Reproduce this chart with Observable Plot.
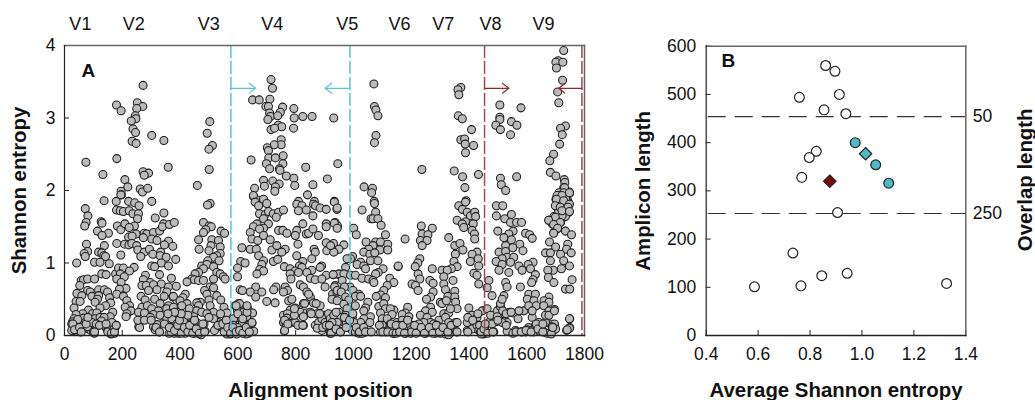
<!DOCTYPE html>
<html><head><meta charset="utf-8">
<script src="https://cdn.jsdelivr.net/npm/d3@7"></script>
<script src="https://cdn.jsdelivr.net/npm/@observablehq/plot@0.6"></script>
<style>
html,body{margin:0;padding:0;background:#fff}
#wrap{display:flex;width:1035px;height:400px}
svg{display:block;flex:none}
</style></head><body><div id="wrap"></div>
<script>
const highV1V3=[[74,2.39],[133,2.22],[181,2.44],[180,3.18],[196,3.10],[272,3.45],[252,3.21],[271,3.16],[250,3.13],[245,3.03],[247,2.99],[231,2.96],[237,2.85],[246,2.80],[234,2.68],[248,2.65],[302,2.76],[344,2.69],[359,2.32],[272,2.26],[291,2.24],[276,2.21],[209,2.15],[219,2.05],[196,1.99],[197,1.94],[262,2.02],[270,1.98],[288,2.03],[503,2.95],[494,2.79],[512,2.62],[500,2.57],[501,2.29],[460,2.07]];
const highV4=[[715,3.53],[720,3.41],[651,3.25],[674,3.25],[711,3.26],[697,3.16],[706,3.16],[755,3.15],[794,3.13],[710,3.07],[747,3.08],[713,3.02],[738,3.03],[704,2.98],[795,3.0],[825,3.02],[857,3.02],[932,3.0],[740,2.9],[752,2.88],[715,2.84],[727,2.86],[793,2.86],[750,2.7],[750,2.63],[726,2.63],[702,2.59],[706,2.55],[757,2.48],[707,2.45],[730,2.45],[646,2.42],[699,2.37],[756,2.37],[835,2.32],[946,2.37],[710,2.3],[744,2.3],[746,2.28],[768,2.2],[794,2.17],[910,2.16],[689,2.14],[721,2.13],[658,2.03],[692,2.06],[743,2.09],[730,2.05],[728,1.99],[797,2.07],[860,2.08],[841,1.94],[654,1.92],[668,1.87],[690,1.87],[810,1.85],[865,1.85]];
const highV5V9=[[1071,3.47],[1073,3.16],[1078,3.11],[1085,3.03],[1078,2.76],[1073,2.66],[1037,2.05],[1066,2.03],[1063,1.97],[1072,1.85],[1237,2.29],[1372,3.42],[1362,3.39],[1365,3.32],[1363,3.03],[1377,2.99],[1409,2.84],[1372,2.70],[1385,2.71],[1387,2.64],[1416,2.62],[1388,2.52],[1349,2.27],[1378,2.19],[1433,2.22],[1386,2.04],[1390,1.86],[1507,3.18],[1580,3.14],[1507,3.01],[1507,2.98],[1493,2.9],[1509,2.84],[1547,2.95],[1566,2.9],[1544,2.77],[1509,2.17],[1565,2.19],[1512,2.08],[1527,2.0],[1728,3.93],[1709,3.79],[1701,3.77],[1725,3.77],[1703,3.69],[1724,3.52],[1707,3.36],[1711,3.21],[1734,2.89],[1717,2.86],[1723,2.77],[1714,2.64],[1693,2.5],[1680,2.41],[1682,2.25],[1701,2.2],[1730,2.15],[1732,2.11],[1728,2.04],[1747,1.98],[1712,1.97],[1725,1.94],[1709,1.93],[1726,1.91],[1701,1.88],[1742,1.86]];
const lowV1=[[72,1.75],[81,1.65],[75,1.56],[70,1.51],[137,1.86],[127,1.57],[130,1.55],[114,1.44],[152,1.41],[130,1.38],[138,1.24],[76,1.26],[80,1.16],[68,1.13],[72,1.09],[118,1.15],[129,1.14],[136,1.10],[142,1.09],[104,1.01],[123,1.01],[155,.99],[42,1.0],[129,.85],[144,.84],[177,.85],[58,.76],[66,.77],[80,.78],[104,.78],[53,.69],[80,.62],[89,.6],[118,.63],[138,.63],[43,.58],[60,.55],[95,.54],[118,.55],[149,.6],[156,.52],[114,.5],[40,.47],[54,.47],[106,.46],[160,.45],[142,.41],[83,.35],[33,.38],[123,.38],[97,.3],[112,.31],[167,.32],[63,.3],[40,.29],[33,.23],[28,.19],[25,.16],[31,.11],[29,.08],[54,.21],[87,.23],[106,.23],[123,.25],[158,.26],[66,.24],[72,.18],[48,.14],[33,.07],[54,.05],[83,.09],[91,.07],[103,.03],[123,.15],[135,.16],[144,.11],[149,.07],[158,.05],[161,.02],[173,.03],[175,.11],[179,.14],[164,.18],[66,.14],[114,.16],[25,.07],[40,.09],[80,.12],[95,.18],[137,.25],[152,.08],[170,.08],[100,.05],[128,.2],[46,.22]];
const lowV2=[[179,1.85],[195,1.94],[180,1.73],[193,1.72],[222,1.85],[243,1.83],[258,1.79],[204,1.71],[224,1.72],[237,1.68],[256,1.68],[253,1.61],[183,1.51],[195,1.46],[209,1.54],[242,1.51],[224,1.49],[314,1.62],[344,1.69],[302,1.85],[248,1.40],[276,1.41],[285,1.40],[222,1.36],[234,1.37],[308,1.42],[329,1.44],[181,1.27],[208,1.26],[223,1.25],[233,1.27],[250,1.24],[273,1.35],[302,1.33],[320,1.31],[254,1.18],[276,1.15],[294,1.19],[264,1.09],[306,1.12],[195,1.11],[333,1.15],[343,1.54],[339,1.5],[363,1.53],[380,1.56],[360,1.3],[346,1.25],[375,1.23],[331,1.1],[385,1.05],[352,1.08],[335,1.0],[360,.96],[302,.96],[312,.95],[187,.93],[204,.93],[241,.94],[225,.89],[193,.85],[207,.81],[280,.83],[329,.84],[370,.79],[181,.78],[196,.73],[273,.77],[297,.73],[268,.69],[283,.69],[213,.65],[190,.64],[308,.7],[335,.71],[387,.68],[360,.67],[181,.57],[204,.54],[216,.48],[265,.54],[354,.6],[320,.63],[291,.62],[345,.54],[312,.5],[279,.49],[225,.41],[210,.39],[230,.34],[216,.3],[213,.26],[268,.39],[287,.41],[331,.44],[360,.41],[375,.53],[389,.48],[256,.32],[277,.31],[302,.37],[325,.34],[354,.37],[260,.2],[257,.12],[308,.29],[297,.25],[331,.28],[343,.18],[308,.12],[320,.15],[314,.08],[329,.05]];
const lowV3=[[504,1.82],[495,1.8],[481,1.56],[501,1.51],[508,1.5],[489,1.46],[481,1.42],[542,1.44],[554,1.41],[464,1.32],[510,1.32],[533,1.31],[507,1.24],[500,1.17],[466,1.19],[539,1.22],[539,1.13],[527,1.1],[516,1.08],[496,1.03],[535,1.03],[475,.96],[493,.98],[516,.95],[481,.92],[464,.87],[452,.85],[527,.87],[539,.85],[550,.81],[441,.78],[424,.74],[450,.77],[464,.76],[481,.76],[556,.78],[516,.78],[504,.67],[516,.66],[485,.62],[493,.57],[527,.55],[541,.49],[500,.49],[504,.41],[552,.39],[470,.46],[458,.45],[464,.41],[418,.57],[410,.52],[400,.48],[377,.54],[424,.44],[406,.41],[377,.39],[432,.37],[458,.34],[475,.32],[516,.32],[562,.31],[493,.3],[447,.26],[418,.28],[389,.32],[366,.3],[354,.23],[372,.23],[400,.26],[429,.21],[458,.18],[483,.16],[533,.18],[545,.16],[562,.18],[516,.23],[389,.16],[406,.14],[424,.12],[447,.14],[470,.11],[366,.11],[380,.03],[395,.03],[406,.07],[418,.03],[435,.05],[449,.03],[464,.03],[473,.01],[487,.06],[362,.03],[444,.09],[527,.11],[550,.12],[560,.09],[568,.07],[562,.02],[553,.05],[574,.02],[571,.11],[578,.16],[392,.1],[412,.2],[437,.16],[455,.08],[500,.25],[540,.3]];
const lowV4=[[654,1.93],[660,1.84],[672,1.79],[689,1.88],[700,1.82],[675,1.68],[695,1.67],[706,1.71],[723,1.68],[741,1.7],[758,1.73],[733,1.63],[666,1.54],[689,1.61],[706,1.54],[654,1.5],[689,1.48],[675,1.47],[643,1.42],[741,1.45],[756,1.45],[770,1.41],[649,1.33],[669,1.31],[689,1.38],[712,1.32],[643,1.19],[614,1.21],[664,1.19],[718,1.18],[735,1.24],[764,1.19],[752,1.15],[672,1.1],[689,1.03],[723,1.02],[738,1.05],[610,1.02],[625,1],[599,.93],[683,.98],[676,.91],[689,.89],[666,.85],[761,.95],[599,.81],[662,.67],[643,.6],[683,.6],[662,.53],[608,.63],[616,.62],[732,.67],[724,.63],[700,.47],[729,.45],[764,.67],[772,.62],[758,.6],[776,.48],[787,.5],[602,.44],[591,.41],[616,.39],[631,.4],[638,.34],[599,.34],[620,.32],[651,.31],[602,.25],[631,.26],[585,.23],[616,.18],[649,.17],[637,.14],[585,.14],[599,.11],[625,.09],[637,.03],[591,.05],[608,.05],[582,.07],[655,.06],[628,.02],[596,.02]];
const lowV4b=[[804,1.81],[822,1.79],[810,1.72],[837,1.73],[862,1.81],[869,1.79],[860,1.65],[885,1.76],[906,1.74],[934,1.85],[943,1.74],[825,1.54],[804,1.45],[799,1.38],[837,1.4],[845,1.41],[860,1.47],[879,1.38],[906,1.54],[937,1.56],[906,1.5],[945,1.51],[808,1.26],[906,1.28],[931,1.27],[908,1.17],[864,1.19],[868,1.15],[804,1.1],[856,1.06],[937,1.17],[825,1.02],[813,.96],[890,.96],[781,.92],[799,.89],[822,.94],[856,.9],[885,.94],[781,.85],[810,.87],[839,.87],[906,.83],[931,.84],[949,.84],[784,.78],[851,.79],[868,.77],[891,.78],[816,.7],[827,.67],[902,.67],[937,.69],[955,.69],[839,.6],[851,.53],[845,.57],[928,.57],[943,.6],[885,.41],[862,.45],[827,.44],[799,.38],[781,.35],[816,.32],[839,.31],[758,.28],[772,.3],[770,.24],[793,.23],[810,.23],[827,.26],[851,.32],[758,.18],[781,.17],[767,.16],[799,.18],[827,.14],[761,.06],[873,.3],[896,.28],[914,.3],[931,.25],[949,.3],[868,.14],[880,.18],[891,.23],[902,.18],[920,.23],[891,.07],[920,.03],[914,.14],[937,.18],[949,.18],[937,.09],[875,.1],[905,.12]];
const lowV5V6=[[934,1.84],[944,1.76],[1030,1.73],[1073,1.82],[1077,1.7],[1061,1.61],[1068,1.61],[1085,1.61],[1096,1.52],[934,1.55],[944,1.48],[1001,1.48],[1010,1.39],[1111,1.39],[967,1.25],[950,1.19],[932,1.15],[921,1.24],[1044,1.29],[1077,1.29],[1094,1.29],[1119,1.26],[1068,1.24],[1053,1.19],[1092,1.18],[1119,1.18],[1036,1.15],[1057,1.12],[1074,1.14],[997,1.09],[990,1.06],[978,1.06],[1059,1.03],[1085,1.03],[1025,1.01],[1013,.98],[1036,.96],[973,.94],[1042,.92],[1103,.92],[1086,.87],[1077,.85],[950,.85],[930,.84],[967,.85],[990,.83],[1007,.83],[1030,.79],[1053,.78],[1068,.76],[1071,.73],[961,.76],[988,.67],[1126,.79],[1140,.73],[1117,.69],[1105,.62],[1094,.56],[1079,.54],[1111,.52],[935,.67],[969,.67],[944,.62],[958,.6],[999,.62],[1019,.57],[1007,.54],[1025,.54],[926,.5],[944,.48],[973,.53],[984,.49],[967,.43],[1007,.41],[1050,.46],[1042,.38],[1088,.4],[1105,.44],[1111,.37],[1140,.35],[1128,.37],[1188,.39],[1180,.31],[978,.37],[950,.32],[973,.28],[955,.25],[932,.28],[1036,.34],[1059,.26],[1094,.31],[1134,.29],[1169,.29],[1192,.26],[996,.25],[1036,.23],[1057,.18],[1100,.23],[1117,.23],[1025,.18],[1001,.18],[976,.18],[944,.18],[926,.18],[1100,.14],[1128,.16],[1151,.18],[1169,.21],[1188,.21],[1198,.14],[932,.07],[955,.05],[978,.11],[996,.07],[1007,.05],[1019,.03],[1030,.03],[1042,.05],[1094,.05],[1111,.05],[1123,.07],[1140,.03],[1146,.07],[1157,.05],[1169,.07],[1180,.03],[1198,.03],[1201,.08],[1140,.11],[1157,.14]];
const lowV6V7=[[1179,1.33],[1155,.95],[1155,.96],[1235,1.51],[1273,1.48],[1238,1.4],[1258,1.39],[1232,1.31],[1255,1.31],[1238,1.24],[1230,1.06],[1223,1],[1214,.95],[1273,.92],[1224,.85],[1230,.78],[1203,.71],[1215,.69],[1265,.76],[1276,.72],[1224,.62],[1276,.6],[1267,.53],[1253,.5],[1301,.46],[1307,.44],[1267,.39],[1250,.34],[1273,.32],[1232,.28],[1255,.25],[1296,.21],[1267,.18],[1244,.18],[1226,.16],[1313,.3],[1330,.31],[1319,.25],[1330,.18],[1278,.16],[1232,.05],[1250,.03],[1267,.05],[1284,.03],[1301,.03],[1319,.02],[1330,.01],[1336,.05],[1357,.05],[1290,.14],[1218,.11],[1354,.18],[1330,1.35],[1351,1.24],[1369,1.27],[1379,1.18],[1353,1.12],[1348,1.02],[1359,.95],[1339,.92],[1307,.9],[1325,.9],[1313,.81],[1345,.76],[1313,.71],[1319,.63],[1351,.61],[1327,.54],[1351,.53],[1322,.48],[1354,.46],[1359,.37],[1336,.37],[1365,1.79],[1388,1.84],[1377,1.74],[1394,1.7],[1405,1.65],[1420,1.7],[1423,1.64],[1359,1.59],[1388,1.57],[1377,1.54],[1382,1.49],[1415,1.54],[1411,1.45],[1419,1.4],[1420,1.33],[1428,1.15],[1411,1.12],[1432,1.06],[1405,1.02],[1434,.96],[1417,.86],[1428,.83],[1434,.71]];
const lowV8=[[1400,.38],[1394,.18],[1411,.28],[1428,.25],[1446,.34],[1463,.37],[1394,.07],[1411,.09],[1428,.14],[1434,.07],[1440,.05],[1446,.09],[1451,.02],[1457,.14],[1469,.18],[1475,.28],[1486,.05],[1498,.34],[1509,.4],[1494,.19],[1521,.3],[1532,.18],[1553,.31],[1532,.06],[1561,.07],[1570,.23],[1590,.34],[1573,.34],[1584,.05],[1596,.05],[1607,.11],[1619,.25],[1625,.05],[1642,.18],[1650,.11],[1659,.05],[1671,.03],[1688,.05],[1682,.16],[1696,.11],[1665,.18],[1630,.14],[1498,.26],[1515,.18],[1480,.16],[1469,.76],[1463,.66],[1480,.55],[1509,.44],[1521,.55],[1515,.5],[1578,.67],[1495,1.79],[1517,1.79],[1495,1.65],[1524,1.61],[1547,1.67],[1544,1.56],[1565,1.56],[1582,1.56],[1500,1.44],[1553,1.44],[1538,1.4],[1596,1.41],[1610,1.39],[1619,1.34],[1521,1.35],[1547,1.32],[1527,1.24],[1576,1.26],[1504,1.15],[1527,1.16],[1552,1.21],[1587,1.17],[1532,1.08],[1515,1.06],[1494,1.02],[1555,1.08],[1622,1.01],[1515,.98],[1544,1.01],[1573,.96],[1605,.98],[1504,.9],[1538,.87],[1584,.9],[1613,.92],[1630,.84],[1622,.77],[1617,.73],[1527,.73],[1532,.67],[1607,.57],[1630,.57],[1602,.5],[1625,.48],[1607,.41],[1633,.41],[1619,.34],[1450,.08],[1447,.03],[1454,.12],[1443,.02],[1456,.05],[1540,.32],[1600,.08],[1615,.07],[1645,.06]];
const lowV9=[[1705,1.93],[1728,1.93],[1748,1.96],[1705,1.79],[1723,1.79],[1746,1.82],[1717,1.75],[1740,1.75],[1746,1.7],[1734,1.64],[1694,1.64],[1677,1.59],[1688,1.54],[1717,1.56],[1705,1.47],[1694,1.42],[1734,1.44],[1755,1.39],[1679,1.29],[1742,1.26],[1700,1.22],[1738,1.19],[1665,1.14],[1682,1.14],[1717,1.12],[1754,1.14],[1682,1.03],[1728,1.03],[1748,.96],[1692,.9],[1720,.92],[1673,.9],[1675,.8],[1694,.73],[1757,.77],[1734,.64],[1749,.64],[1677,.53],[1660,.48],[1677,.46],[1659,.41],[1696,.36],[1677,.34],[1665,.28],[1677,.28],[1749,.23],[1696,.16],[1700,.09],[1749,.11],[1738,.07],[1688,.12],[1715,1.85],[1735,1.88],[1722,1.65],[1710,1.72],[1731,2.04],[1728,1.97],[1748,1.97],[1722,1.93],[1703,1.88],[1728,1.86],[1748,1.81],[1699,1.79],[1716,1.77],[1743,1.77],[1722,1.72],[1748,1.71],[1699,1.63],[1676,1.59],[1716,1.56],[1693,1.53],[1707,1.48],[1693,1.41]];
const baseLeft=[[29,.16],[35,.08],[52,.11],[58,.05],[75,.16],[81,.25],[104,.05],[110,.16],[121,.14],[144,.16],[150,.05],[162,.03],[173,.05],[179,.14],[260,.11],[254,.21],[277,.21],[300,.21],[317,.11],[329,.05],[346,.16],[369,.05],[363,.11],[381,.07],[392,.14],[398,.21],[404,.03],[415,.11],[427,.05],[433,.14],[444,.03],[456,.09],[467,.03],[485,.05],[479,.16],[450,.21],[427,.28],[404,.3],[381,.32],[358,.3],[519,.07],[531,.14],[548,.16],[560,.21],[565,.11],[575,.03],[583,.11],[594,.05],[606,.07],[617,.03],[629,.11],[640,.05],[649,.18],[600,.3],[617,.23],[632,.32],[606,.44],[632,.41],[594,.41],[762,.07],[762,.21],[773,.16],[796,.28],[808,.14],[825,.14],[796,.37],[831,.44],[854,.3],[871,.44],[883,.3],[894,.11]];
const baseRight=[[906,.14],[923,.03],[917,.14],[940,.09],[955,.05],[940,.32],[969,.25],[975,.11],[987,.21],[998,.3],[1010,.11],[1021,.05],[1036,.11],[1042,.05],[1062,.05],[1090,.14],[1102,.05],[1119,.05],[1137,.03],[1148,.03],[1131,.16],[1148,.14],[1160,.05],[1171,.14],[1177,.03],[1188,.21],[1202,.05],[1217,.03],[1212,.14],[1235,.11],[1246,.03],[1263,.11],[1275,.03],[1287,.14],[1298,.05],[1310,.11],[1327,.05],[1338,.14],[1359,.05],[1359,.18],[1396,.05],[1396,.25],[1413,.21],[1431,.3],[1437,.14],[1442,.05],[1452,.09],[1456,.16],[1465,.03],[1483,.05],[1500,.21],[1517,.34],[1529,.3],[1546,.32],[1529,.14],[1552,.03],[1563,.05],[1581,.05],[1598,.07],[1615,.05],[1633,.16],[1639,.09],[1656,.05],[1656,.16],[1685,.02],[1690,.11],[1696,.34],[1748,.23],[1748,.1],[1740,.08]];

const regionLabels=["V1","V2","V3","V4","V5","V6","V7","V8","V9"];
const regionCenters=[55,240,499,719,979,1160,1311,1475,1658];
const v4Bounds=[576,988];
const v9Bounds=[1454,1791];
const arrowLevel=3.41;
const v4Arrows=[[576,662],[988,902]];
const v9Arrows=[[1454,1538],[1791,1711]];

const whiteEntropy=[.86,.896,.759,.913,.854,.938,.824,.797,.768,.906,.734,.586,.765,.845,.943,1.326];
const whiteLength=[560,548,494,500,468,460,382,369,328,255,171,101,103,124,129,108];
const cyanEntropy=[.974,1.053,1.103];
const cyanLength=[400,354,316];
const cyanDiamond=[[1.014,377]];
const redDiamond=[[.876,320]];
const overlapLevels=[454,253];
const overlapLabels=["50","250"];

const font="'Liberation Sans',Arial,sans-serif";
const pointsA=[highV1V3,highV4,highV5V9,lowV1,lowV2,lowV3,lowV4,lowV4b,lowV5V6,lowV6V7,lowV8,lowV9,baseLeft,baseRight].flat();
const cyan="#5cc4d4", red="#a2484c", arrowRed="#8e2b2b";

const frameLines=()=>[
  Plot.frame({anchor:"top",stroke:"#666",strokeWidth:1.5}),
  Plot.frame({anchor:"right",stroke:"#666",strokeWidth:1.5}),
  Plot.frame({anchor:"left",stroke:"#222",strokeWidth:1.2}),
  Plot.frame({anchor:"bottom",stroke:"#222",strokeWidth:1.5})
];
const axes=(xt,yt,fmt,pad)=>[
  Plot.axisX(xt,{anchor:"bottom",tickSize:-5,tickFormat:fmt,tickPadding:17,fontSize:17.5,stroke:"#222"}),
  Plot.axisY(yt,{anchor:"left",tickSize:-5,tickFormat:d=>String(d),tickPadding:pad,fontSize:17.5,stroke:"#222"})
];
const titleStyle={fontSize:20.4,fontWeight:"bold",fill:"#111",textAnchor:"middle",lineAnchor:"middle"};

const A=Plot.plot({
  width:640,height:400,marginLeft:64,marginRight:56,marginTop:45,marginBottom:65,
  style:{fontFamily:font,background:"#fff",color:"#111",overflow:"visible"},
  x:{domain:[0,1800],label:null},y:{domain:[0,4],label:null},
  marks:[
    ...axes(d3.range(0,1801,200),[0,1,2,3,4],d=>String(d),14),
    Plot.dot(pointsA,{x:d=>d[0],y:d=>d[1],r:4,fill:"#bbbbbb",stroke:"#1c1c1c",strokeWidth:1.05}),
    Plot.ruleX(v4Bounds,{stroke:cyan,strokeWidth:1.5,strokeDasharray:"13,3"}),
    Plot.ruleX(v9Bounds,{stroke:red,strokeWidth:1.5,strokeDasharray:"13,3"}),
    Plot.arrow(v4Arrows,{x1:d=>d[0],x2:d=>d[1],y1:arrowLevel,y2:arrowLevel,stroke:cyan,strokeWidth:1.2,headLength:15,headAngle:76}),
    Plot.arrow(v9Arrows,{x1:d=>d[0],x2:d=>d[1],y1:arrowLevel,y2:arrowLevel,stroke:arrowRed,strokeWidth:1.2,headLength:15,headAngle:76}),
    ...frameLines(),
    Plot.text(regionLabels,{x:(d,i)=>regionCenters[i],frameAnchor:"top",lineAnchor:"middle",dy:-21,fontSize:18,fill:"#111"}),
    Plot.text(["A"],{x:83,y:3.65,fontSize:19,fontWeight:"bold",fill:"#111"}),
    Plot.text(["Shannon entropy"],{frameAnchor:"left",rotate:-90,dx:-45,...titleStyle}),
    Plot.text(["Alignment position"],{frameAnchor:"bottom",dx:-4,dy:55,...titleStyle})
  ]
});

const B=Plot.plot({
  width:395,height:400,marginLeft:65.7,marginRight:69.7,marginTop:45.7,marginBottom:65,
  style:{fontFamily:font,background:"#fff",color:"#111",overflow:"visible"},
  x:{domain:[.4,1.4],label:null},y:{domain:[0,600],label:null},
  marks:[
    ...axes([.4,.6,.8,1,1.2,1.4],d3.range(0,601,100),d3.format(".1f"),15),
    Plot.ruleY(overlapLevels,{stroke:"#333",strokeWidth:1.2,strokeDasharray:"18,9",insetLeft:2}),
    Plot.dot(whiteEntropy,{x:d=>d,y:(d,i)=>whiteLength[i],r:4.9,fill:"#fff",stroke:"#222",strokeWidth:1.2}),
    Plot.dot(cyanEntropy,{x:d=>d,y:(d,i)=>cyanLength[i],r:4.9,fill:"#4fb9c6",stroke:"#222",strokeWidth:1.2}),
    Plot.dot(cyanDiamond,{x:d=>d[0],y:d=>d[1],symbol:"diamond2",r:5.6,fill:"#4fb9c6",stroke:"#222",strokeWidth:1.2}),
    Plot.dot(redDiamond,{x:d=>d[0],y:d=>d[1],symbol:"diamond2",r:5.6,fill:"#7a0c0c",stroke:"#222",strokeWidth:1.2}),
    ...frameLines(),
    Plot.text(overlapLabels,{y:(d,i)=>overlapLevels[i],frameAnchor:"right",textAnchor:"start",dx:7,fontSize:17.5,fill:"#111"}),
    Plot.text(["B"],{x:.485,y:569,fontSize:19,fontWeight:"bold",fill:"#111"}),
    Plot.text(["Amplicon length"],{frameAnchor:"left",rotate:-90,dx:-63,...titleStyle}),
    Plot.text(["Overlap length"],{frameAnchor:"right",rotate:-90,dx:60,dy:-11,...titleStyle}),
    Plot.text(["Average Shannon entropy"],{frameAnchor:"bottom",dy:55,...titleStyle})
  ]
});
document.getElementById("wrap").append(A,B);
</script></body></html>
